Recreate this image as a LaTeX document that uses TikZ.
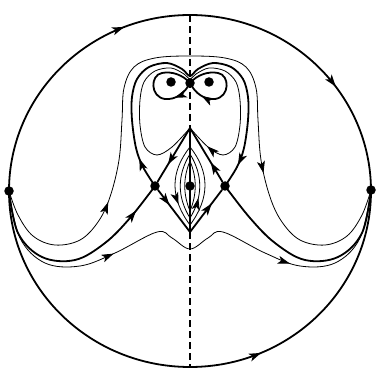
\documentclass[tikz,border=0pt]{standalone}
\usepackage{tikz}
\usetikzlibrary{arrows.meta,decorations.markings}
\tikzset{
  eqpt/.style={circle, fill, inner sep=0pt, minimum size=9.5pt},
  orb/.style={line width=0.8pt},
  sepx/.style={line width=1.8pt},
  fl/.style={postaction={decorate, decoration={markings,
      mark=at position #1 with {\arrow{Stealth[length=12pt,width=8pt,inset=3pt]}}}}},
  every picture/.style={line cap=round, line join=round}
}
\begin{document}
\begin{tikzpicture}[x=1pt,y=-1pt]
  \useasboundingbox (0,0) rectangle (380,374);
  \node[eqpt] (L) at (9,191) {};
  \node[eqpt] (R) at (371,190) {};
  \node[eqpt] (S) at (190,83) {};
  \node[eqpt] (cL) at (171,82) {};
  \node[eqpt] (cR) at (209,82) {};
  \node[eqpt] (sL) at (155,186) {};
  \node[eqpt] (sR) at (225,186) {};
  \node[eqpt] (N) at (190,186) {};
  \coordinate (T) at (190,128);
  \coordinate (B) at (190,232);
  \coordinate (top) at (190,15);
  \coordinate (bot) at (190,367);

  \draw[sepx, fl=0.38, fl=0.8] (L.center) arc[start angle=180, end angle=360, x radius=181, y radius=176];
  \draw[sepx, fl=0.63] (L.center) arc[start angle=180, end angle=0, x radius=181, y radius=176];

  \draw[sepx, line cap=butt, dash pattern=on 7pt off 4pt] (top) -- (T);
  \draw[sepx] (T) -- (B);
  \draw[sepx, line cap=butt, dash pattern=on 7pt off 4pt] (B) -- (bot);

  \draw[sepx, fl=0.22] (S.center) .. controls (185,93) and (176,100) .. (165,99)
    .. controls (150,97) and (150,75) .. (162,73) .. controls (172,71) and (183,75) .. (S.center);
  \draw[sepx, fl=0.82] (S.center) .. controls (197,75) and (208,71) .. (218,73)
    .. controls (230,75) and (230,97) .. (215,99) .. controls (204,100) and (195,93) .. (S.center);

  \draw[orb, fl=0.93] plot[smooth, tension=0.55] coordinates {(T) (172,147) (157,155) (145,147)
    (140,125) (140,100) (144,82) (155,71) (171,68) (184,74) (190,79) (196,74) (209,68) (225,71)
    (236,82) (240,100) (240,125) (235,147) (223,155) (208,147) (T)};
  \draw[sepx, fl=0.09, fl=0.93] plot[smooth, tension=0.55] coordinates {(sL.center) (143,167)
    (136,148) (132,120) (132,97) (137,79) (149,67) (167,63) (182,69) (190,76) (198,69) (213,63)
    (231,67) (243,79) (248,97) (248,120) (244,148) (237,167) (sR.center)};
  \draw[orb, fl=0.215, fl=0.74] plot[smooth, tension=0.6] coordinates {(L.center) (18,215)
    (33,236) (55,245) (80,240) (98,222) (110,197) (119,160) (122,120) (124,88) (134,67) (155,58)
    (190,56) (225,58) (246,67) (256,88) (258,120) (261,160) (270,197) (282,222) (300,240)
    (325,245) (347,236) (362,215) (R.center)};
  \draw[orb, fl=0.32, fl=0.73] plot[smooth, tension=0.6] coordinates {(L.center) (20,238)
    (45,263) (80,266) (115,253) (157,232) (172,238) (190,249) (208,238) (223,232) (265,253)
    (300,266) (335,263) (360,238) (R.center)};
  \draw[sepx, fl=0.86] plot[smooth, tension=0.6] coordinates {(L.center) (18,233) (42,257)
    (75,260) (105,243) (130,218) (sL.center)};
  \draw[sepx] plot[smooth, tension=0.6] coordinates {(sR.center) (250,218) (275,243)
    (305,260) (338,257) (362,233) (R.center)};

  \draw[sepx, fl=0.68] (T) -- (sL);
  \draw[sepx, fl=0.36] (sL) -- (B);
  \draw[sepx, fl=0.68] (B) -- (sR);
  \draw[sepx, fl=0.36] (sR) -- (T);

  \draw[orb, fl=0.36] (190,147) .. controls (170,172) and (170,198) .. (190,225)
    .. controls (210,198) and (210,172) .. (190,147);
  \draw[orb, fl=0.66] (190,154) .. controls (177,175) and (177,197) .. (190,218)
    .. controls (203,197) and (203,175) .. (190,154);
  \draw[orb] (190,161) .. controls (183,178) and (183,194) .. (190,211)
    .. controls (197,194) and (197,178) .. (190,161);
\end{tikzpicture}
\end{document}
